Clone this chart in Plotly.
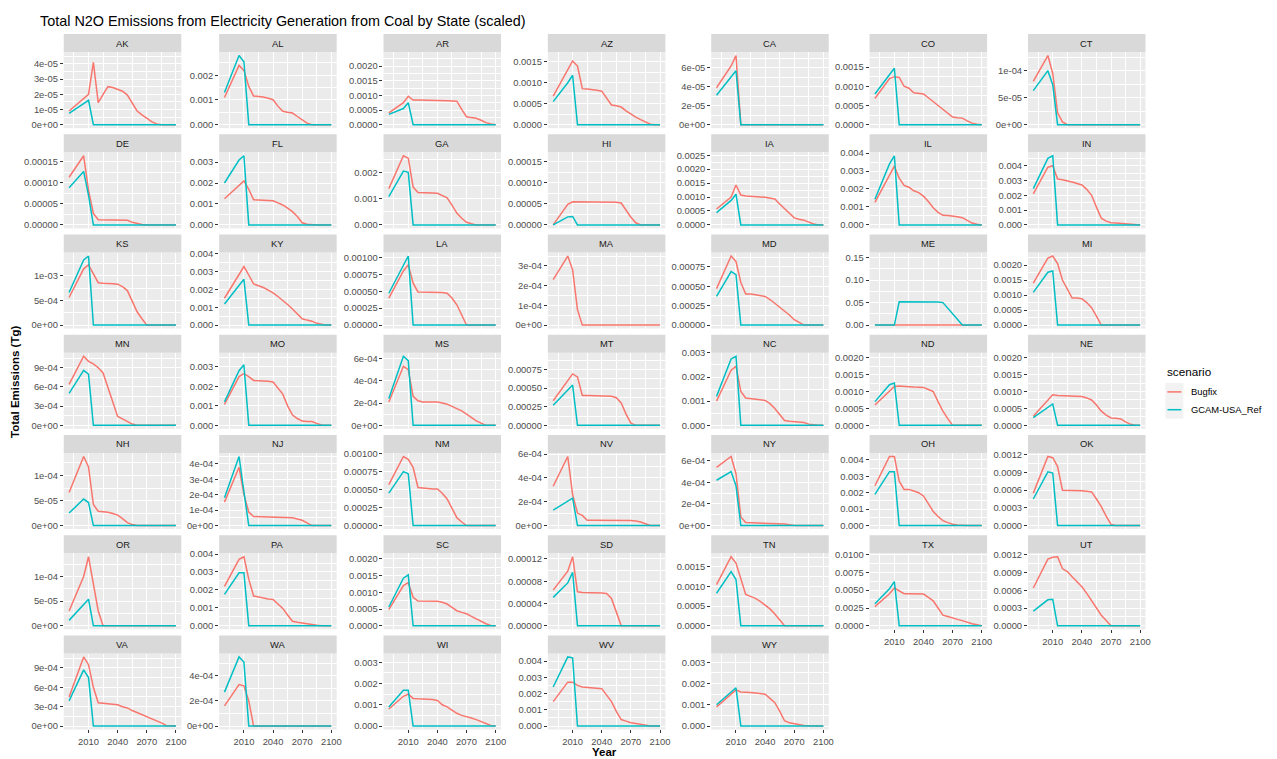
import math
import plotly.graph_objects as go

# ---------------------------------------------------------------- data
years = [1990, 2005, 2010, 2015, 2020, 2025, 2030, 2035, 2040, 2045, 2050,
         2055, 2060, 2065, 2070, 2075, 2080, 2085, 2090, 2095, 2100]

states = ["AK", "AL", "AR", "AZ", "CA", "CO", "CT",
          "DE", "FL", "GA", "HI", "IA", "IL", "IN",
          "KS", "KY", "LA", "MA", "MD", "ME", "MI",
          "MN", "MO", "MS", "MT", "NC", "ND", "NE",
          "NH", "NJ", "NM", "NV", "NY", "OH", "OK",
          "OR", "PA", "SC", "SD", "TN", "TX", "UT",
          "VA", "WA", "WI", "WV", "WY"]

x_ticks = [2010, 2040, 2070, 2100]

scenarios = ["Bugfix", "GCAM-USA_Ref"]

# Total N2O emissions (Tg), scenario "Bugfix"
bugfix = {
    "AK": [9e-6, 1.75e-5, 2.0e-5, 4.1e-5, 1.45e-5, 2.0e-5, 2.5e-5, 2.45e-5, 2.35e-5, 2.2e-5, 1.95e-5, 1.4e-5, 9e-6, 6.5e-6, 4e-6, 2e-6, 5e-7, 0, 0, 0, 0],
    "AL": [1.1e-3, 2.4e-3, 2.2e-3, 1.55e-3, 1.16e-3, 1.15e-3, 1.12e-3, 1.07e-3, 1.01e-3, 7.5e-4, 5.4e-4, 5.0e-4, 4.7e-4, 3.3e-4, 2.0e-4, 6e-5, 0, 0, 0, 0, 0],
    "AR": [4e-4, 7.5e-4, 9.7e-4, 8.4e-4, 8.4e-4, 8.4e-4, 8.3e-4, 8.3e-4, 8.3e-4, 8.2e-4, 8.2e-4, 8.1e-4, 8.0e-4, 5.2e-4, 2.7e-4, 2.4e-4, 2.2e-4, 1.5e-4, 7e-5, 2e-5, 0],
    "AZ": [6.8e-4, 1.3e-3, 1.52e-3, 1.4e-3, 8.6e-4, 8.5e-4, 8.4e-4, 8.2e-4, 8.0e-4, 6.3e-4, 4.7e-4, 4.5e-4, 4.2e-4, 3.3e-4, 2.5e-4, 1.8e-4, 1.2e-4, 6e-5, 1e-5, 0, 0],
    "CA": [3.9e-5, 6.2e-5, 7.3e-5, 0, 0, 0, 0, 0, 0, 0, 0, 0, 0, 0, 0, 0, 0, 0, 0, 0, 0],
    "CO": [6.8e-4, 1.2e-3, 1.25e-3, 1.23e-3, 1.0e-3, 9.5e-4, 8.3e-4, 8.2e-4, 8.0e-4, 7.0e-4, 6.0e-4, 5.0e-4, 4.0e-4, 3.0e-4, 2.0e-4, 1.8e-4, 1.7e-4, 1.0e-4, 4e-5, 1e-5, 0],
    "CT": [8e-5, 1.28e-4, 9.5e-5, 2.2e-5, 5e-6, 0, 0, 0, 0, 0, 0, 0, 0, 0, 0, 0, 0, 0, 0, 0, 0],
    "DE": [1.13e-4, 1.64e-4, 8.2e-5, 2.7e-5, 1.2e-5, 1.2e-5, 1.2e-5, 1.2e-5, 1.15e-5, 1.1e-5, 1.1e-5, 6e-6, 3e-6, 1e-6, 0, 0, 0, 0, 0, 0, 0],
    "FL": [1.25e-3, 1.9e-3, 2.1e-3, 1.7e-3, 1.2e-3, 1.19e-3, 1.18e-3, 1.17e-3, 1.15e-3, 1.05e-3, 9.5e-4, 8e-4, 6.3e-4, 4e-4, 1e-4, 3e-5, 0, 0, 0, 0, 0],
    "GA": [1.38e-3, 2.63e-3, 2.54e-3, 1.44e-3, 1.23e-3, 1.23e-3, 1.22e-3, 1.21e-3, 1.2e-3, 1.13e-3, 1.03e-3, 7.5e-4, 4.5e-4, 2.5e-4, 1e-4, 4e-5, 0, 0, 0, 0, 0],
    "HI": [0, 4.9e-5, 5.5e-5, 5.5e-5, 5.5e-5, 5.5e-5, 5.5e-5, 5.5e-5, 5.45e-5, 5.4e-5, 5.4e-5, 5.35e-5, 5.2e-5, 3.5e-5, 1.8e-5, 5e-6, 0, 0, 0, 0, 0],
    "IA": [5.7e-4, 1.0e-3, 1.43e-3, 1.07e-3, 1.04e-3, 1.02e-3, 1.0e-3, 1.0e-3, 9.9e-4, 9.6e-4, 9.3e-4, 7.5e-4, 5.8e-4, 4.0e-4, 2.5e-4, 2.0e-4, 1.7e-4, 1.0e-4, 3e-5, 0, 0],
    "IL": [1.25e-3, 2.8e-3, 3.27e-3, 2.6e-3, 2.2e-3, 2.1e-3, 1.9e-3, 1.8e-3, 1.6e-3, 1.3e-3, 9.5e-4, 7.0e-4, 5.3e-4, 5.2e-4, 5.0e-4, 4.5e-4, 4.0e-4, 2.5e-4, 1.0e-4, 3e-5, 0],
    "IN": [2.1e-3, 3.9e-3, 4.0e-3, 3.1e-3, 3.05e-3, 3.0e-3, 2.9e-3, 2.8e-3, 2.7e-3, 2.4e-3, 2.0e-3, 1.2e-3, 4.5e-4, 2.5e-4, 1.5e-4, 1.3e-4, 1.0e-4, 7e-5, 3e-5, 0, 0],
    "KS": [5.6e-4, 1.14e-3, 1.22e-3, 1.04e-3, 8.6e-4, 8.5e-4, 8.5e-4, 8.4e-4, 8.3e-4, 7.8e-4, 7.0e-4, 4.8e-4, 2.7e-4, 1.3e-4, 0, 0, 0, 0, 0, 0, 0],
    "KY": [1.5e-3, 2.8e-3, 3.27e-3, 2.8e-3, 2.3e-3, 2.2e-3, 2.1e-3, 1.95e-3, 1.8e-3, 1.6e-3, 1.4e-3, 1.15e-3, 9e-4, 6e-4, 3.5e-4, 2.8e-4, 2.2e-4, 1e-4, 4e-5, 0, 0],
    "LA": [4e-4, 8e-4, 8.9e-4, 6.2e-4, 4.9e-4, 4.9e-4, 4.9e-4, 4.8e-4, 4.8e-4, 4.8e-4, 4.7e-4, 4.0e-4, 3.0e-4, 1.5e-4, 0, 0, 0, 0, 0, 0, 0],
    "MA": [2.3e-4, 3.5e-4, 2.8e-4, 7.8e-5, 0, 0, 0, 0, 0, 0, 0, 0, 0, 0, 0, 0, 0, 0, 0, 0, 0],
    "MD": [4.7e-4, 8.9e-4, 8.2e-4, 5.5e-4, 4.0e-4, 4.0e-4, 3.9e-4, 3.8e-4, 3.7e-4, 3.3e-4, 2.8e-4, 2.4e-4, 1.9e-4, 1.3e-4, 7e-5, 3e-5, 0, 0, 0, 0, 0],
    "ME": [0, 0, 0, 0, 0, 0, 0, 0, 0, 0, 0, 0, 0, 0, 0, 0, 0, 0, 0, 0, 0],
    "MI": [1.4e-3, 2.23e-3, 2.3e-3, 2.05e-3, 1.5e-3, 1.2e-3, 9e-4, 9e-4, 8.8e-4, 7.5e-4, 5.8e-4, 3e-4, 0, 0, 0, 0, 0, 0, 0, 0, 0],
    "MN": [6.4e-4, 1.08e-3, 1.0e-3, 9.6e-4, 9.0e-4, 8.2e-4, 5.9e-4, 3.7e-4, 1.4e-4, 1.0e-4, 6e-5, 2e-5, 0, 0, 0, 0, 0, 0, 0, 0, 0],
    "MO": [1.07e-3, 2.5e-3, 2.65e-3, 2.5e-3, 2.3e-3, 2.29e-3, 2.28e-3, 2.26e-3, 2.22e-3, 1.9e-3, 1.6e-3, 1.0e-3, 5.3e-4, 3.5e-4, 2.2e-4, 2.0e-4, 2.0e-4, 1.0e-4, 2e-5, 0, 0],
    "MS": [2.1e-4, 5.3e-4, 5.0e-4, 2.6e-4, 2.2e-4, 2.1e-4, 2.1e-4, 2.1e-4, 2.1e-4, 2.0e-4, 1.9e-4, 1.7e-4, 1.5e-4, 1.3e-4, 1.0e-4, 7e-5, 4e-5, 2e-5, 0, 0, 0],
    "MT": [3.3e-4, 6.0e-4, 6.9e-4, 6.5e-4, 4.0e-4, 4.0e-4, 4.0e-4, 4.0e-4, 4.0e-4, 3.95e-4, 3.9e-4, 3.7e-4, 3.0e-4, 1.5e-4, 3e-5, 0, 0, 0, 0, 0, 0],
    "NC": [1.0e-3, 2.28e-3, 2.44e-3, 1.4e-3, 1.13e-3, 1.1e-3, 1.08e-3, 1.06e-3, 1.03e-3, 9.0e-4, 7.0e-4, 4.5e-4, 2.0e-4, 1.7e-4, 1.5e-4, 1.4e-4, 1.2e-4, 5e-5, 2e-5, 0, 0],
    "ND": [6e-4, 1.0e-3, 1.15e-3, 1.16e-3, 1.14e-3, 1.14e-3, 1.13e-3, 1.13e-3, 1.12e-3, 1.06e-3, 1.0e-3, 7.0e-4, 4.2e-4, 2.0e-4, 0, 0, 0, 0, 0, 0, 0],
    "NE": [2.7e-4, 7.5e-4, 9.0e-4, 8.8e-4, 8.7e-4, 8.7e-4, 8.7e-4, 8.6e-4, 8.5e-4, 8.1e-4, 7.5e-4, 6.0e-4, 4.2e-4, 3.0e-4, 2.2e-4, 2.1e-4, 1.9e-4, 1.0e-4, 3e-5, 0, 0],
    "NH": [6.6e-5, 1.38e-4, 1.17e-4, 4.2e-5, 2.85e-5, 2.8e-5, 2.65e-5, 2.4e-5, 2.1e-5, 1.4e-5, 6e-6, 2e-6, 0, 0, 0, 0, 0, 0, 0, 0, 0],
    "NJ": [1.52e-4, 3.77e-4, 2.0e-4, 8.8e-5, 5.8e-5, 5.7e-5, 5.7e-5, 5.6e-5, 5.6e-5, 5.5e-5, 5.4e-5, 5.2e-5, 5.0e-5, 4.2e-5, 3.4e-5, 1.8e-5, 0, 0, 0, 0, 0],
    "NM": [5.7e-4, 9.6e-4, 9.2e-4, 8.1e-4, 5.3e-4, 5.2e-4, 5.2e-4, 5.1e-4, 5.1e-4, 4.5e-4, 3.7e-4, 2.5e-4, 1.1e-4, 5e-5, 0, 0, 0, 0, 0, 0, 0],
    "NV": [3.3e-4, 5.8e-4, 2.6e-4, 1.05e-4, 8.5e-5, 4.5e-5, 4.5e-5, 4.5e-5, 4.5e-5, 4.5e-5, 4.5e-5, 4.5e-5, 4.5e-5, 4.5e-5, 4.2e-5, 3.8e-5, 3.0e-5, 1.5e-5, 0, 0, 0],
    "NY": [5.4e-4, 6.4e-4, 4.8e-4, 8e-5, 2.8e-5, 2.7e-5, 2.6e-5, 2.6e-5, 2.5e-5, 2.3e-5, 2.1e-5, 1.8e-5, 1.5e-5, 8e-6, 0, 0, 0, 0, 0, 0, 0],
    "OH": [2.42e-3, 4.2e-3, 4.2e-3, 2.7e-3, 2.2e-3, 2.2e-3, 2.1e-3, 2.0e-3, 1.8e-3, 1.3e-3, 8.6e-4, 5.5e-4, 3.0e-4, 1.8e-4, 8e-5, 3e-5, 0, 0, 0, 0, 0],
    "OK": [5.5e-4, 1.17e-3, 1.15e-3, 1.0e-3, 6.0e-4, 6.0e-4, 6.0e-4, 6.0e-4, 5.9e-4, 5.8e-4, 5.7e-4, 4.5e-4, 3.2e-4, 1.6e-4, 2e-5, 0, 0, 0, 0, 0, 0],
    "OR": [3e-5, 1.0e-4, 1.4e-4, 8.5e-5, 3e-5, 0, 0, 0, 0, 0, 0, 0, 0, 0, 0, 0, 0, 0, 0, 0, 0],
    "PA": [2.2e-3, 3.7e-3, 3.85e-3, 2.6e-3, 1.66e-3, 1.6e-3, 1.53e-3, 1.5e-3, 1.47e-3, 1.2e-3, 9.7e-4, 6e-4, 2.5e-4, 2e-4, 1.5e-4, 1.1e-4, 7e-5, 3e-5, 0, 0, 0],
    "SC": [4.8e-4, 1.2e-3, 1.29e-3, 8.5e-4, 7.4e-4, 7.4e-4, 7.4e-4, 7.3e-4, 7.3e-4, 7.0e-4, 6.5e-4, 5.5e-4, 4.5e-4, 4.0e-4, 3.6e-4, 2.8e-4, 2.0e-4, 1.3e-4, 6e-5, 1e-5, 0],
    "SD": [6.4e-5, 9.8e-5, 1.24e-4, 6.1e-5, 6.0e-5, 6.0e-5, 6.0e-5, 5.95e-5, 5.9e-5, 5.8e-5, 4.9e-5, 2.5e-5, 0, 0, 0, 0, 0, 0, 0, 0, 0],
    "TN": [1.05e-3, 1.76e-3, 1.6e-3, 1.2e-3, 8.0e-4, 7.5e-4, 7.0e-4, 6.2e-4, 5.3e-4, 4.3e-4, 3.0e-4, 1.5e-4, 0, 0, 0, 0, 0, 0, 0, 0, 0],
    "TX": [2.7e-3, 4.5e-3, 5.3e-3, 4.9e-3, 4.5e-3, 4.5e-3, 4.5e-3, 4.48e-3, 4.45e-3, 4.0e-3, 3.5e-3, 2.5e-3, 1.5e-3, 1.3e-3, 1.05e-3, 9e-4, 7.3e-4, 5e-4, 3e-4, 1.5e-4, 0],
    "UT": [6.4e-4, 1.13e-3, 1.16e-3, 1.17e-3, 9.7e-4, 9.2e-4, 8.3e-4, 7.5e-4, 6.6e-4, 5.5e-4, 4.3e-4, 3.0e-4, 1.8e-4, 9e-5, 0, 0, 0, 0, 0, 0, 0],
    "VA": [4.5e-4, 1.07e-3, 9.5e-4, 6e-4, 3.6e-4, 3.5e-4, 3.5e-4, 3.4e-4, 3.3e-4, 3.0e-4, 2.8e-4, 2.4e-4, 2.1e-4, 1.8e-4, 1.5e-4, 1.2e-4, 9e-5, 5e-5, 1e-5, 0, 0],
    "WA": [1.6e-4, 3.3e-4, 3.2e-4, 2.0e-4, 0, 0, 0, 0, 0, 0, 0, 0, 0, 0, 0, 0, 0, 0, 0, 0, 0],
    "WI": [8e-4, 1.4e-3, 1.5e-3, 1.3e-3, 1.28e-3, 1.27e-3, 1.26e-3, 1.25e-3, 1.2e-3, 1.0e-3, 9e-4, 7.5e-4, 6e-4, 5e-4, 4.5e-4, 3.8e-4, 3e-4, 2e-4, 1e-4, 3e-5, 0],
    "WV": [1.5e-3, 2.7e-3, 2.7e-3, 2.5e-3, 2.4e-3, 2.38e-3, 2.35e-3, 2.33e-3, 2.3e-3, 1.9e-3, 1.5e-3, 9e-4, 4e-4, 3e-4, 2e-4, 1.5e-4, 1e-4, 5e-5, 0, 0, 0],
    "WY": [9e-4, 1.5e-3, 1.7e-3, 1.6e-3, 1.6e-3, 1.58e-3, 1.56e-3, 1.54e-3, 1.5e-3, 1.3e-3, 1.1e-3, 7e-4, 2.5e-4, 1.5e-4, 1e-4, 6e-5, 3e-5, 1e-5, 0, 0, 0],
}

# Total N2O emissions (Tg), scenario "GCAM-USA_Ref" (no series for MA)
gcam_usa_ref = {
    "AK": [7.5e-6, 1.4e-5, 1.6e-5, 0, 0, 0, 0, 0, 0, 0, 0, 0, 0, 0, 0, 0, 0, 0, 0, 0, 0],
    "AL": [1.3e-3, 2.8e-3, 2.55e-3, 0, 0, 0, 0, 0, 0, 0, 0, 0, 0, 0, 0, 0, 0, 0, 0, 0, 0],
    "AR": [3.5e-4, 5.5e-4, 7.5e-4, 0, 0, 0, 0, 0, 0, 0, 0, 0, 0, 0, 0, 0, 0, 0, 0, 0, 0],
    "AZ": [5.5e-4, 1.0e-3, 1.18e-3, 0, 0, 0, 0, 0, 0, 0, 0, 0, 0, 0, 0, 0, 0, 0, 0, 0, 0],
    "CA": [3.1e-5, 5.0e-5, 5.7e-5, 0, 0, 0, 0, 0, 0, 0, 0, 0, 0, 0, 0, 0, 0, 0, 0, 0, 0],
    "CO": [8.0e-4, 1.3e-3, 1.47e-3, 0, 0, 0, 0, 0, 0, 0, 0, 0, 0, 0, 0, 0, 0, 0, 0, 0, 0],
    "CT": [6.3e-5, 1.0e-4, 7.4e-5, 0, 0, 0, 0, 0, 0, 0, 0, 0, 0, 0, 0, 0, 0, 0, 0, 0, 0],
    "DE": [8.8e-5, 1.27e-4, 7.0e-5, 0, 0, 0, 0, 0, 0, 0, 0, 0, 0, 0, 0, 0, 0, 0, 0, 0, 0],
    "FL": [2.0e-3, 3.1e-3, 3.3e-3, 0, 0, 0, 0, 0, 0, 0, 0, 0, 0, 0, 0, 0, 0, 0, 0, 0, 0],
    "GA": [1.08e-3, 2.05e-3, 2.0e-3, 0, 0, 0, 0, 0, 0, 0, 0, 0, 0, 0, 0, 0, 0, 0, 0, 0, 0],
    "HI": [0, 1.9e-5, 2.0e-5, 0, 0, 0, 0, 0, 0, 0, 0, 0, 0, 0, 0, 0, 0, 0, 0, 0, 0],
    "IA": [4.4e-4, 8.8e-4, 1.1e-3, 0, 0, 0, 0, 0, 0, 0, 0, 0, 0, 0, 0, 0, 0, 0, 0, 0, 0],
    "IL": [1.43e-3, 3.4e-3, 3.85e-3, 0, 0, 0, 0, 0, 0, 0, 0, 0, 0, 0, 0, 0, 0, 0, 0, 0, 0],
    "IN": [2.45e-3, 4.5e-3, 4.67e-3, 0, 0, 0, 0, 0, 0, 0, 0, 0, 0, 0, 0, 0, 0, 0, 0, 0, 0],
    "KS": [6.6e-4, 1.32e-3, 1.40e-3, 0, 0, 0, 0, 0, 0, 0, 0, 0, 0, 0, 0, 0, 0, 0, 0, 0, 0],
    "KY": [1.18e-3, 2.2e-3, 2.56e-3, 0, 0, 0, 0, 0, 0, 0, 0, 0, 0, 0, 0, 0, 0, 0, 0, 0, 0],
    "LA": [4.7e-4, 8.7e-4, 1.02e-3, 0, 0, 0, 0, 0, 0, 0, 0, 0, 0, 0, 0, 0, 0, 0, 0, 0, 0],
    "MD": [3.7e-4, 6.9e-4, 6.5e-4, 0, 0, 0, 0, 0, 0, 0, 0, 0, 0, 0, 0, 0, 0, 0, 0, 0, 0],
    "ME": [0, 0, 0, 5.2e-2, 5.2e-2, 5.2e-2, 5.2e-2, 5.2e-2, 5.2e-2, 5.2e-2, 5.2e-2, 5.15e-2, 5.0e-2, 3.75e-2, 2.5e-2, 1.25e-2, 0, 0, 0, 0, 0],
    "MI": [1.09e-3, 1.76e-3, 1.8e-3, 0, 0, 0, 0, 0, 0, 0, 0, 0, 0, 0, 0, 0, 0, 0, 0, 0, 0],
    "MN": [5.0e-4, 8.6e-4, 8.0e-4, 0, 0, 0, 0, 0, 0, 0, 0, 0, 0, 0, 0, 0, 0, 0, 0, 0, 0],
    "MO": [1.2e-3, 2.8e-3, 3.1e-3, 0, 0, 0, 0, 0, 0, 0, 0, 0, 0, 0, 0, 0, 0, 0, 0, 0, 0],
    "MS": [2.4e-4, 6.2e-4, 5.8e-4, 0, 0, 0, 0, 0, 0, 0, 0, 0, 0, 0, 0, 0, 0, 0, 0, 0, 0],
    "MT": [2.7e-4, 4.7e-4, 5.4e-4, 0, 0, 0, 0, 0, 0, 0, 0, 0, 0, 0, 0, 0, 0, 0, 0, 0, 0],
    "NC": [1.2e-3, 2.75e-3, 2.86e-3, 0, 0, 0, 0, 0, 0, 0, 0, 0, 0, 0, 0, 0, 0, 0, 0, 0, 0],
    "ND": [7.0e-4, 1.2e-3, 1.25e-3, 0, 0, 0, 0, 0, 0, 0, 0, 0, 0, 0, 0, 0, 0, 0, 0, 0, 0],
    "NE": [2.3e-4, 5.3e-4, 6.3e-4, 0, 0, 0, 0, 0, 0, 0, 0, 0, 0, 0, 0, 0, 0, 0, 0, 0, 0],
    "NH": [2.5e-5, 5.3e-5, 4.6e-5, 0, 0, 0, 0, 0, 0, 0, 0, 0, 0, 0, 0, 0, 0, 0, 0, 0, 0],
    "NJ": [1.8e-4, 4.47e-4, 2.2e-4, 0, 0, 0, 0, 0, 0, 0, 0, 0, 0, 0, 0, 0, 0, 0, 0, 0, 0],
    "NM": [4.5e-4, 7.5e-4, 7.2e-4, 0, 0, 0, 0, 0, 0, 0, 0, 0, 0, 0, 0, 0, 0, 0, 0, 0, 0],
    "NV": [1.3e-4, 2.0e-4, 2.3e-4, 0, 0, 0, 0, 0, 0, 0, 0, 0, 0, 0, 0, 0, 0, 0, 0, 0, 0],
    "NY": [4.2e-4, 5.0e-4, 3.7e-4, 0, 0, 0, 0, 0, 0, 0, 0, 0, 0, 0, 0, 0, 0, 0, 0, 0, 0],
    "OH": [1.9e-3, 3.28e-3, 3.28e-3, 0, 0, 0, 0, 0, 0, 0, 0, 0, 0, 0, 0, 0, 0, 0, 0, 0, 0],
    "OK": [4.5e-4, 9.1e-4, 8.9e-4, 0, 0, 0, 0, 0, 0, 0, 0, 0, 0, 0, 0, 0, 0, 0, 0, 0, 0],
    "OR": [1.1e-5, 4.3e-5, 5.4e-5, 0, 0, 0, 0, 0, 0, 0, 0, 0, 0, 0, 0, 0, 0, 0, 0, 0, 0],
    "PA": [1.75e-3, 2.95e-3, 2.95e-3, 0, 0, 0, 0, 0, 0, 0, 0, 0, 0, 0, 0, 0, 0, 0, 0, 0, 0],
    "SC": [5.6e-4, 1.42e-3, 1.52e-3, 0, 0, 0, 0, 0, 0, 0, 0, 0, 0, 0, 0, 0, 0, 0, 0, 0, 0],
    "SD": [5.1e-5, 7.7e-5, 9.6e-5, 0, 0, 0, 0, 0, 0, 0, 0, 0, 0, 0, 0, 0, 0, 0, 0, 0, 0],
    "TN": [8.3e-4, 1.38e-3, 1.18e-3, 0, 0, 0, 0, 0, 0, 0, 0, 0, 0, 0, 0, 0, 0, 0, 0, 0, 0],
    "TX": [3.1e-3, 5.2e-3, 6.2e-3, 0, 0, 0, 0, 0, 0, 0, 0, 0, 0, 0, 0, 0, 0, 0, 0, 0, 0],
    "UT": [2.5e-4, 4.4e-4, 4.5e-4, 0, 0, 0, 0, 0, 0, 0, 0, 0, 0, 0, 0, 0, 0, 0, 0, 0, 0],
    "VA": [3.9e-4, 8.7e-4, 7.5e-4, 0, 0, 0, 0, 0, 0, 0, 0, 0, 0, 0, 0, 0, 0, 0, 0, 0, 0],
    "WA": [2.7e-4, 5.5e-4, 5.1e-4, 0, 0, 0, 0, 0, 0, 0, 0, 0, 0, 0, 0, 0, 0, 0, 0, 0, 0],
    "WI": [9e-4, 1.68e-3, 1.68e-3, 0, 0, 0, 0, 0, 0, 0, 0, 0, 0, 0, 0, 0, 0, 0, 0, 0, 0],
    "WV": [2.4e-3, 4.25e-3, 4.2e-3, 0, 0, 0, 0, 0, 0, 0, 0, 0, 0, 0, 0, 0, 0, 0, 0, 0, 0],
    "WY": [1.0e-3, 1.6e-3, 1.8e-3, 0, 0, 0, 0, 0, 0, 0, 0, 0, 0, 0, 0, 0, 0, 0, 0, 0, 0],
}

# Upper end of the free y scale for states whose full record (including
# periods outside the plotted years) peaks above the plotted series.
y_scale_top = {
    "AK": 4.55e-5, "AR": 2.36e-3, "AZ": 1.65e-3, "CO": 1.8e-3, "HI": 1.64e-4,
    "IA": 2.48e-3, "KY": 3.86e-3, "ME": 1.535e-1, "MO": 3.54e-3, "MT": 9.27e-4,
    "ND": 2.04e-3, "NE": 2.04e-3, "SC": 2.06e-3, "TX": 9.7e-3, "WI": 3.25e-3,
    "WY": 3.25e-3,
}

# ---------------------------------------------------------------- helpers
def extended_breaks(dmin, dmax, m=5, Q=(1, 5, 2, 2.5, 4, 3), w=(0.25, 0.2, 0.5, 0.05)):
    """Wilkinson's extended tick algorithm (as used by labeling::extended)."""
    n = len(Q)
    eps = 2.220446e-16 * 100
    best, best_score = None, -2.0

    def simplicity(i, j, lmin, lmax, lstep):
        mod = lmin % lstep
        v = 1 if ((mod < eps or lstep - mod < eps) and lmin <= 0 and lmax >= 0) else 0
        return 1 - (i - 1) / (n - 1) - j + v

    def simplicity_max(i, j):
        return 1 - (i - 1) / (n - 1) - j + 1

    def coverage(lmin, lmax):
        r = dmax - dmin
        return 1 - 0.5 * ((dmax - lmax) ** 2 + (dmin - lmin) ** 2) / ((0.1 * r) ** 2)

    def coverage_max(span):
        r = dmax - dmin
        if span > r:
            half = (span - r) / 2
            return 1 - 0.5 * (2 * half ** 2) / ((0.1 * r) ** 2)
        return 1.0

    def density(k, lmin, lmax):
        r = (k - 1) / (lmax - lmin)
        rt = (m - 1) / (max(lmax, dmax) - min(dmin, lmin))
        return 2 - max(r / rt, rt / r)

    def density_max(k):
        return 2 - (k - 1) / (m - 1) if k >= m else 1.0

    j = 1
    while True:
        stop = False
        for i, q in enumerate(Q, start=1):
            sm = simplicity_max(i, j)
            if w[0] * sm + w[1] + w[2] + w[3] < best_score:
                stop = True
                break
            k = 2
            while True:
                dm = density_max(k)
                if w[0] * sm + w[1] + w[2] * dm + w[3] < best_score:
                    break
                delta = (dmax - dmin) / (k + 1) / j / q
                z = math.ceil(math.log10(delta))
                while True:
                    step = j * q * 10.0 ** z
                    cm = coverage_max(step * (k - 1))
                    if w[0] * sm + w[1] * cm + w[2] * dm + w[3] < best_score:
                        break
                    min_start = math.floor(dmax / step) * j - (k - 1) * j
                    max_start = math.ceil(dmin / step) * j
                    if min_start > max_start:
                        z += 1
                        continue
                    for start in range(int(min_start), int(max_start) + 1):
                        lmin = start * (step / j)
                        lmax = lmin + step * (k - 1)
                        score = (w[0] * simplicity(i, j, lmin, lmax, step)
                                 + w[1] * coverage(lmin, lmax)
                                 + w[2] * density(k, lmin, lmax) + w[3])
                        if score > best_score:
                            best_score = score
                            best = (lmin, lmax, step)
                    z += 1
                k += 1
        if stop:
            break
        j += 1
    lmin, lmax, step = best
    count = int(round((lmax - lmin) / step))
    out = [float(f"{lmin + t * step:.12g}") for t in range(count + 1)]
    return [b for b in out if dmin - 1e-15 <= b <= dmax + 1e-15]


def r_format(vals):
    """Common fixed / scientific formatting, picking the narrower one."""
    sig, exps = [], []
    for v in vals:
        if v == 0:
            sig.append(1)
            exps.append(0)
            continue
        v7 = float(f"{v:.6e}")
        d = 7
        for dd in range(1, 8):
            if float(f"{v7:.{dd - 1}e}") == v7:
                d = dd
                break
        sig.append(d)
        exps.append(int(f"{v7:.{d - 1}e}".split("e")[1]))
    nsmall = max(max(0, d - 1 - e) for d, e in zip(sig, exps))
    fixed = [f"{v:.{nsmall}f}" for v in vals]
    sci = [f"{v:.{max(sig) - 1}e}" for v in vals]
    if max(map(len, fixed)) <= max(map(len, sci)):
        return fixed
    return sci


def minor_breaks(major, lo, hi):
    step = major[1] - major[0]
    cand = [major[0] - step / 2] + [(a + b) / 2 for a, b in zip(major[:-1], major[1:])] + [major[-1] + step / 2]
    return [c for c in cand if lo <= c <= hi]


# ---------------------------------------------------------------- layout
W, H = 1277, 759
FONT = "Liberation Sans, Arial, sans-serif"
colors = {"Bugfix": "#F8766D", "GCAM-USA_Ref": "#00BFC4"}
TICK_SIZE = 9.4
LINE_W = 1.5

ncol = 7
col_left = [64, 220, 385, 550, 714, 873, 1032]
panel_w = 118
strip_top0, row_pitch = 28.3, 101.3
strip_h, panel_h = 18.3, 76.8

x_range = [1984.5, 2105.5]
x_minor = minor_breaks(x_ticks, *x_range)

fig = go.Figure()
shapes, annotations = [], []

for idx, st in enumerate(states):
    r, c = divmod(idx, ncol)
    sfx = "" if idx == 0 else str(idx + 1)
    left = col_left[c]
    s_top = strip_top0 + r * row_pitch
    p_top = s_top + strip_h
    p_bot = p_top + panel_h

    series = {"Bugfix": bugfix.get(st), "GCAM-USA_Ref": gcam_usa_ref.get(st)}
    for name in scenarios:
        vals = series[name]
        if vals is None:
            continue
        fig.add_trace(go.Scatter(
            x=years, y=vals, mode="lines", name=name,
            line=dict(color=colors[name], width=LINE_W),
            xaxis="x" + sfx, yaxis="y" + sfx,
            showlegend=False, hoverinfo="skip"))

    top = max(max(v) for v in series.values() if v is not None)
    top = max(top, y_scale_top.get(st, 0.0))
    y_range = [-0.05 * top, 1.05 * top]
    y_major = extended_breaks(*y_range)
    y_labels = r_format(y_major)
    y_minor = minor_breaks(y_major, *y_range)

    bottom_of_col = idx + ncol >= len(states)

    fig.layout["xaxis" + sfx] = dict(
        domain=[left / W, (left + panel_w) / W], anchor="y" + sfx,
        range=x_range, tickmode="array", tickvals=x_ticks,
        ticktext=[str(t) for t in x_ticks],
        showticklabels=bottom_of_col, ticks="outside" if bottom_of_col else "",
        ticklen=3, tickwidth=1, tickcolor="#333333",
        tickfont=dict(family=FONT, size=TICK_SIZE, color="#4D4D4D"),
        showgrid=True, gridcolor="white", gridwidth=1.4,
        minor=dict(tickmode="array", tickvals=x_minor, showgrid=True,
                   gridcolor="white", gridwidth=0.7, ticks=""),
        zeroline=False, showline=False, fixedrange=True)
    fig.layout["yaxis" + sfx] = dict(
        domain=[1 - p_bot / H, 1 - p_top / H], anchor="x" + sfx,
        range=y_range, tickmode="array", tickvals=y_major, ticktext=y_labels,
        ticks="outside", ticklen=3, tickwidth=1, tickcolor="#333333",
        tickfont=dict(family=FONT, size=TICK_SIZE, color="#4D4D4D"),
        showgrid=True, gridcolor="white", gridwidth=1.4,
        minor=dict(tickmode="array", tickvals=y_minor, showgrid=True,
                   gridcolor="white", gridwidth=0.7, ticks=""),
        zeroline=False, showline=False, fixedrange=True)

    # facet strip
    shapes.append(dict(type="rect", xref="paper", yref="paper",
                       x0=left / W, x1=(left + panel_w) / W,
                       y0=1 - p_top / H, y1=1 - s_top / H,
                       fillcolor="#D9D9D9", line=dict(width=0), layer="below"))
    annotations.append(dict(text=st, xref="paper", yref="paper",
                            x=(left + panel_w / 2) / W, y=1 - (s_top + strip_h / 2) / H,
                            xanchor="center", yanchor="middle", showarrow=False,
                            font=dict(family=FONT, size=TICK_SIZE, color="#1A1A1A")))

# titles
annotations.append(dict(text="Total N2O Emissions from Electricity Generation from Coal by State (scaled)",
                        xref="paper", yref="paper", x=38 / W, y=1 - 15 / H,
                        xanchor="left", yanchor="middle", showarrow=False,
                        font=dict(family=FONT, size=14.4, color="black")))
annotations.append(dict(text="<b>Total Emissions (Tg)</b>", xref="paper", yref="paper",
                        x=15 / W, y=1 - 380 / H, textangle=-90,
                        xanchor="center", yanchor="middle", showarrow=False,
                        font=dict(family=FONT, size=11.5, color="black")))
annotations.append(dict(text="<b>Year</b>", xref="paper", yref="paper",
                        x=(col_left[0] + col_left[-1] + panel_w) / 2 / W, y=1 - 754 / H,
                        xanchor="center", yanchor="middle", showarrow=False,
                        font=dict(family=FONT, size=11.5, color="black")))

# legend
lg_x, lg_y = 1170, 369
annotations.append(dict(text="scenario", xref="paper", yref="paper",
                        x=lg_x / W, y=1 - lg_y / H, xanchor="left", yanchor="middle",
                        showarrow=False, font=dict(family=FONT, size=11.7, color="black")))
key = 18
for n, name in enumerate(scenarios):
    k_top = 381 + n * key
    shapes.append(dict(type="rect", xref="paper", yref="paper",
                       x0=lg_x / W, x1=(lg_x + key) / W,
                       y0=1 - (k_top + key) / H, y1=1 - k_top / H,
                       fillcolor="#F2F2F2", line=dict(width=0)))
    shapes.append(dict(type="line", xref="paper", yref="paper",
                       x0=(lg_x + 2) / W, x1=(lg_x + key - 2) / W,
                       y0=1 - (k_top + key / 2) / H, y1=1 - (k_top + key / 2) / H,
                       line=dict(color=colors[name], width=LINE_W)))
    annotations.append(dict(text=name, xref="paper", yref="paper",
                            x=(lg_x + key + 6) / W, y=1 - (k_top + key / 2) / H,
                            xanchor="left", yanchor="middle", showarrow=False,
                            font=dict(family=FONT, size=TICK_SIZE, color="black")))

fig.update_layout(
    width=W, height=H, margin=dict(l=0, r=0, t=0, b=0),
    paper_bgcolor="white", plot_bgcolor="#EBEBEB",
    shapes=shapes, annotations=annotations,
    showlegend=False, hovermode=False,
    font=dict(family=FONT))

fig.write_html("out.html")
